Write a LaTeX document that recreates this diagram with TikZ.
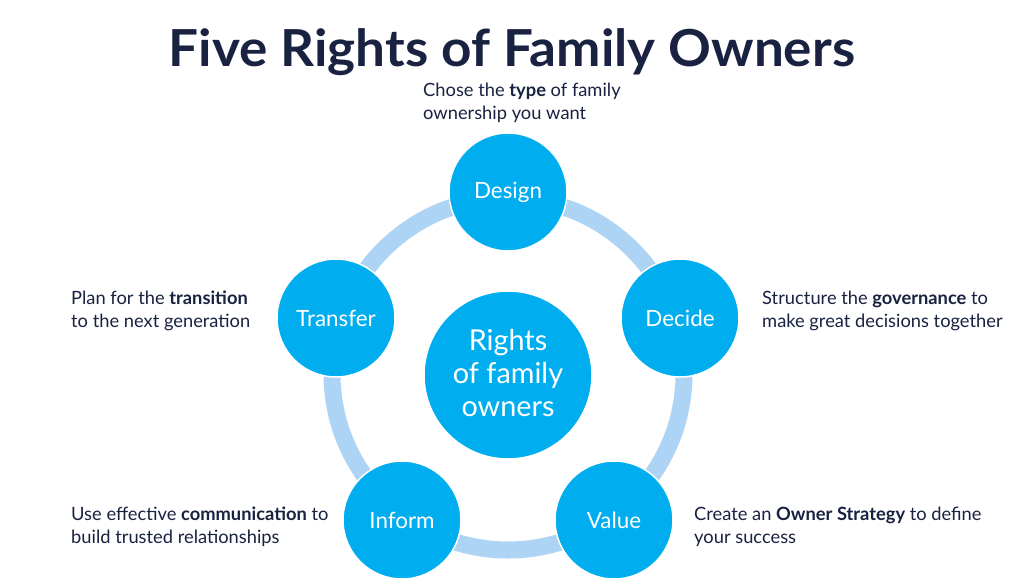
\documentclass[tikz,border=0pt]{standalone}
\usepackage{fontspec}
\setmainfont{Lato}
\definecolor{navy}{HTML}{1A2242}
\definecolor{cblue}{HTML}{00AEEF}
\definecolor{ring}{HTML}{AED4F5}
\begin{document}
\begin{tikzpicture}[x=1pt,y=-1pt,
  bubble/.style={circle,fill=cblue,draw=white,line width=1.5pt,minimum size=118pt,inner sep=0pt,text=white,font=\fontsize{22.4}{26}\selectfont},
  hub/.style={circle,fill=cblue,draw=white,line width=1.5pt,minimum size=168pt,inner sep=0pt,text=white,align=center,font=\fontsize{28.8}{33}\selectfont},
  desc/.style={anchor=north west,inner sep=0pt,align=left,text=navy,font=\fontsize{18.3}{22.5}\selectfont}]
\useasboundingbox (0,0) rectangle (1024,584);
\fill[white] (0,0) rectangle (1024,584);
\node[text=navy,font=\fontsize{51}{55}\bfseries\selectfont,anchor=base] (title) at (512,66) {\scalebox{1.04}[1]{Five Rights of Family Owners}};
\coordinate (rc) at (508,374);
\draw[ring,line width=17pt] (rc) circle[radius=176];
\node[hub] (hub) at (508,375) {Rights\\of family\\owners\rule[-5pt]{0pt}{0pt}};
\node[bubble] (design) at (508,192) {Design};
\node[bubble] (decide) at (680,318) {Decide};
\node[bubble] (value) at (614,520) {Value};
\node[bubble] (inform) at (402,520) {Inform};
\node[bubble] (transfer) at (336,318) {Transfer};
\node[desc] (tdesign) at (423,83) {Chose the \textbf{type} of family\\ownership you want};
\node[desc] (tdecide) at (762,291) {Structure the \textbf{governance} to\\make great decisions together};
\node[desc] (ttransfer) at (71,291) {Plan for the \textbf{transition}\\to the next generation};
\node[desc] (tinform) at (71,507) {Use effective \textbf{communication} to\\build trusted relationships};
\node[desc] (tvalue) at (694,507) {Create an \textbf{Owner Strategy} to define\\your success};
\end{tikzpicture}
\end{document}
